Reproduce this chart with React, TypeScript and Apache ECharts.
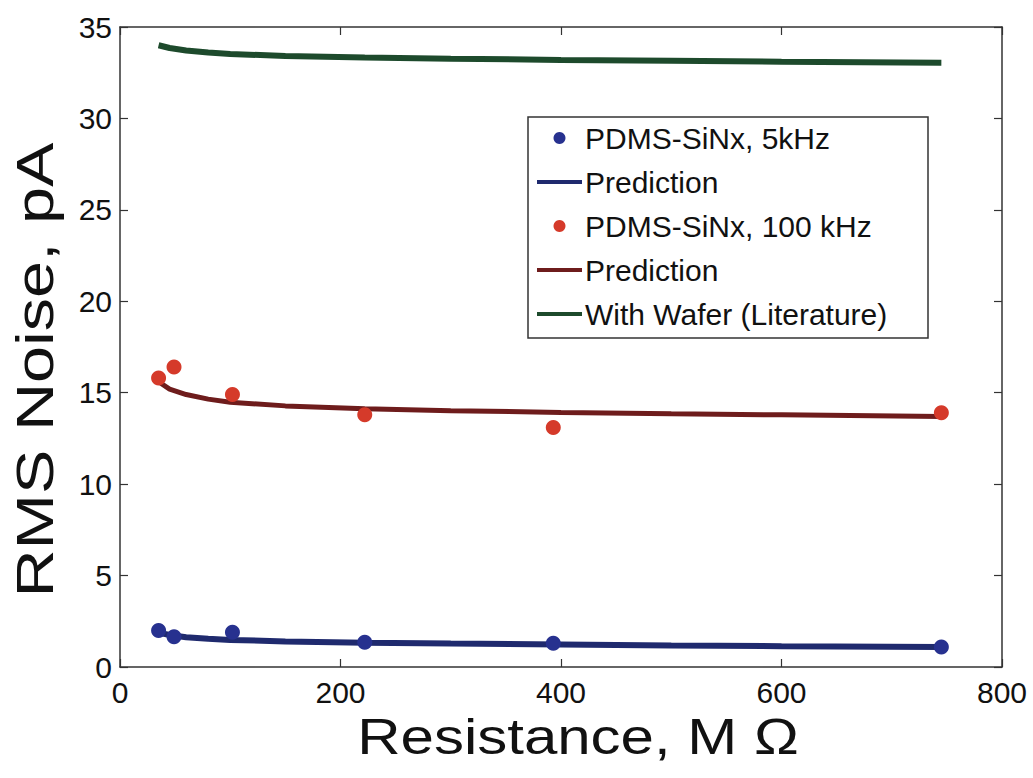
import React, { useEffect, useRef } from "react";
import * as echarts from "echarts";

const resistance = [35, 49, 102, 222, 393, 745];
const noise5k = [2.0, 1.65, 1.9, 1.35, 1.3, 1.1];
const noise100k = [15.8, 16.4, 14.9, 13.8, 13.1, 13.9];

const predX = [35, 45, 60, 80, 100, 150, 222, 300, 400, 500, 600, 745];
const pred5k = [1.88, 1.75, 1.63, 1.54, 1.48, 1.4, 1.33, 1.28, 1.23, 1.18, 1.14, 1.1];
const pred100k = [15.6, 15.2, 14.9, 14.65, 14.48, 14.28, 14.12, 14.02, 13.92, 13.85, 13.79, 13.7];
const wafer = [34.0, 33.85, 33.72, 33.6, 33.52, 33.42, 33.33, 33.27, 33.2, 33.15, 33.1, 33.05];

const xTicks = { min: 0, max: 800, interval: 200 };
const yTicks = { min: 0, max: 35, interval: 5 };

const xTitle = "Resistance, M Ω";
const yTitle = "RMS Noise, pA";

const FONT = "Liberation Sans, Arial, Helvetica, sans-serif";

function zip(xs: number[], ys: number[]) {
  return xs.map((x, i) => [x, ys[i]]);
}

function axisLine() {
  return { show: true, onZero: false, lineStyle: { color: "#333", width: 1.5 } };
}
function axisTick() {
  return { show: true, inside: true, length: 8, lineStyle: { color: "#333", width: 1.2 } };
}

export default function App() {
  const ref = useRef<HTMLDivElement>(null);
  useEffect(() => {
    if (!ref.current) return;
    const chart = echarts.init(ref.current, undefined, { renderer: "svg" });
    chart.setOption({
      animation: false,
      backgroundColor: "#fff",
      grid: { left: 120, top: 27, right: 31, bottom: 111 },
      xAxis: [
        {
          type: "value",
          ...xTicks,
          position: "bottom",
          axisLine: axisLine(),
          axisTick: axisTick(),
          splitLine: { show: false },
          axisLabel: { fontSize: 30, color: "#111", fontFamily: FONT, margin: 10 },
        },
        {
          type: "value",
          ...xTicks,
          position: "top",
          axisLine: axisLine(),
          axisTick: axisTick(),
          splitLine: { show: false },
          axisLabel: { show: false },
        },
      ],
      yAxis: [
        {
          type: "value",
          ...yTicks,
          position: "left",
          axisLine: axisLine(),
          axisTick: axisTick(),
          splitLine: { show: false },
          axisLabel: { fontSize: 30, color: "#111", fontFamily: FONT, margin: 8 },
        },
        {
          type: "value",
          ...yTicks,
          position: "right",
          axisLine: axisLine(),
          axisTick: axisTick(),
          splitLine: { show: false },
          axisLabel: { show: false },
        },
      ],
      legend: {
        orient: "vertical",
        left: 535,
        top: 123,
        padding: 0,
        itemWidth: 45,
        itemHeight: 12,
        itemGap: 14,
        textStyle: { fontSize: 30, color: "#111", fontFamily: FONT, padding: [0, 0, 0, -2] },
        formatter: (n: string) => (n.startsWith("Prediction") ? "Prediction" : n),
        data: [
          { name: "PDMS-SiNx, 5kHz", icon: "circle" },
          { name: "Prediction 5kHz", itemStyle: { opacity: 0 }, lineStyle: { width: 4 } },
          { name: "PDMS-SiNx, 100 kHz", icon: "circle" },
          { name: "Prediction 100kHz", itemStyle: { opacity: 0 }, lineStyle: { width: 4 } },
          { name: "With Wafer (Literature)", itemStyle: { opacity: 0 }, lineStyle: { width: 4 } },
        ],
      },
      graphic: [
        {
          type: "rect",
          shape: { x: 528, y: 117, width: 400, height: 221 },
          style: { fill: "none", stroke: "#333", lineWidth: 1.5 },
          z: 100,
        },
        {
          type: "text",
          x: 578,
          y: 737,
          scaleX: 1.2,
          style: {
            text: xTitle,
            fontSize: 50,
            fontFamily: FONT,
            fill: "#111",
            align: "center",
            verticalAlign: "middle",
          },
        },
        {
          type: "text",
          x: 35,
          y: 370,
          rotation: Math.PI / 2,
          scaleX: 1.28,
          style: {
            text: yTitle,
            fontSize: 52,
            fontFamily: FONT,
            fill: "#111",
            align: "center",
            verticalAlign: "middle",
          },
        },
      ],
      series: [
        {
          name: "PDMS-SiNx, 5kHz",
          type: "scatter",
          data: zip(resistance, noise5k),
          symbol: "circle",
          symbolSize: 15,
          itemStyle: { color: "#27318f", opacity: 1 },
          z: 5,
        },
        {
          name: "Prediction 5kHz",
          type: "line",
          data: zip(predX, pred5k),
          symbol: "none",
          lineStyle: { color: "#1f2a6e", width: 6 },
          itemStyle: { color: "#1f2a6e" },
          z: 4,
        },
        {
          name: "PDMS-SiNx, 100 kHz",
          type: "scatter",
          data: zip(resistance, noise100k),
          symbol: "circle",
          symbolSize: 15,
          itemStyle: { color: "#d53a2a", opacity: 1 },
          z: 5,
        },
        {
          name: "Prediction 100kHz",
          type: "line",
          data: zip(predX, pred100k),
          symbol: "none",
          lineStyle: { color: "#6e1c1c", width: 5 },
          itemStyle: { color: "#6e1c1c" },
          z: 4,
        },
        {
          name: "With Wafer (Literature)",
          type: "line",
          data: zip(predX, wafer),
          symbol: "none",
          lineStyle: { color: "#1d4a2c", width: 6 },
          itemStyle: { color: "#1d4a2c" },
          z: 4,
        },
      ],
    });
    return () => chart.dispose();
  }, []);
  return (
    <div
      ref={ref}
      style={{ position: "absolute", left: 0, top: 0, width: 1033, height: 778 }}
    />
  );
}
